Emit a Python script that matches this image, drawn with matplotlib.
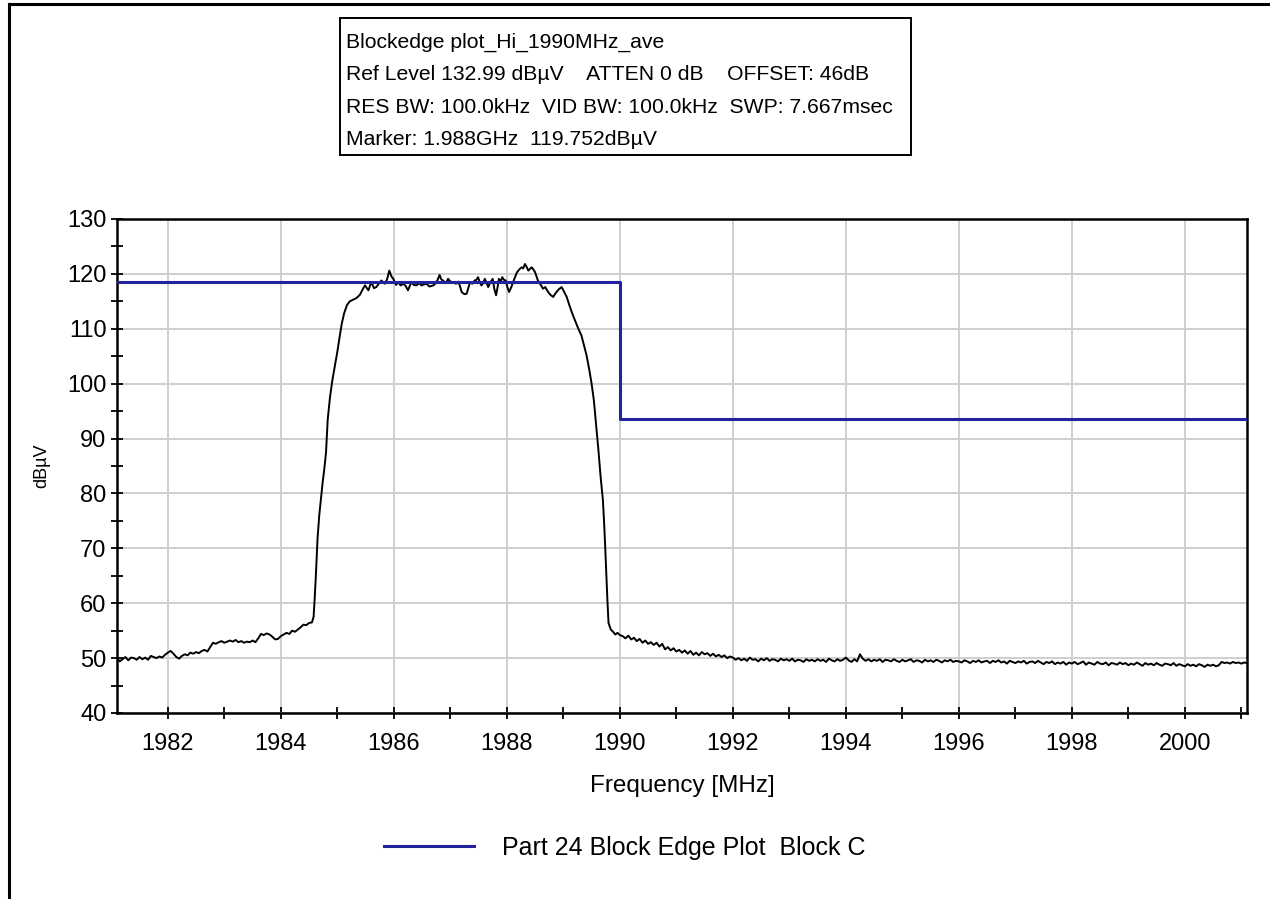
import numpy as np
import matplotlib
matplotlib.use("Agg")
import matplotlib.pyplot as plt
from matplotlib.lines import Line2D
from matplotlib.patches import Rectangle
from matplotlib.ticker import MultipleLocator

plt.rcParams['font.family'] = ['Liberation Sans', 'DejaVu Sans']

# ---- measured trace (frequency in MHz, level in dBuV) ----
# lower noise floor below the carrier, 0.05 MHz sweep points
floor_low_start, floor_low_stop = 1981.10, 1984.55
floor_low_level = [
    50.0, 49.4, 49.8, 50.2, 49.6, 50.1, 50.0, 49.7, 50.2, 49.8,
    50.1, 49.7, 50.4, 50.2, 50.0, 50.3, 50.1, 50.6, 51.0, 51.3,
    50.8, 50.2, 49.9, 50.4, 50.7, 50.5, 51.0, 50.8, 51.1, 50.9,
    51.3, 51.5, 51.2, 52.0, 52.8, 52.6, 52.9, 53.1, 52.8, 53.0,
    53.2, 53.0, 53.3, 52.9, 53.1, 52.8, 53.0, 52.9, 53.2, 52.9,
    53.6, 54.4, 54.2, 54.5, 54.3, 53.9, 53.4, 53.5, 54.0, 54.3,
    54.6, 54.4, 55.0, 54.8, 55.2, 55.6, 56.1, 56.0, 56.4, 56.5,
]

# carrier: rising edge, in-band ripple, falling edge
carrier_freq = [
    1984.58, 1984.60, 1984.62, 1984.65, 1984.68, 1984.71, 1984.74, 1984.77,
    1984.80, 1984.83, 1984.87, 1984.91, 1984.96, 1985.00, 1985.04, 1985.08,
    1985.12, 1985.17, 1985.22, 1985.28, 1985.34, 1985.40,
    1985.46, 1985.49, 1985.55, 1985.60, 1985.65, 1985.69, 1985.74, 1985.78,
    1985.84, 1985.88, 1985.92, 1985.96, 1985.99, 1986.04, 1986.08, 1986.12,
    1986.17, 1986.21, 1986.25, 1986.31, 1986.35, 1986.40, 1986.45, 1986.49,
    1986.54, 1986.58, 1986.63, 1986.70, 1986.74, 1986.77, 1986.81, 1986.84,
    1986.87, 1986.92, 1986.96, 1987.00, 1987.05, 1987.10, 1987.14, 1987.17,
    1987.20, 1987.25, 1987.29, 1987.32, 1987.35, 1987.39, 1987.43, 1987.46,
    1987.49, 1987.52, 1987.55, 1987.58, 1987.61, 1987.64, 1987.67, 1987.71,
    1987.75, 1987.78, 1987.81, 1987.84, 1987.86, 1987.89, 1987.92, 1987.95,
    1987.98, 1988.01, 1988.04, 1988.08, 1988.11, 1988.15, 1988.18, 1988.22,
    1988.26, 1988.29, 1988.32, 1988.35, 1988.38, 1988.41, 1988.44, 1988.47,
    1988.50, 1988.53, 1988.55, 1988.60, 1988.64, 1988.68, 1988.73, 1988.77,
    1988.82, 1988.85, 1988.88, 1988.92, 1988.97, 1989.01, 1989.06, 1989.10,
    1989.14, 1989.18, 1989.23, 1989.27, 1989.32, 1989.36, 1989.41,
    1989.46, 1989.50, 1989.54, 1989.58, 1989.62, 1989.66, 1989.70, 1989.72,
    1989.74, 1989.76, 1989.78, 1989.80, 1989.84, 1989.88, 1989.92, 1989.96,
    1990.00,
]
carrier_level = [
    57.5, 61.0, 65.0, 71.8, 76.0, 79.0, 82.0, 84.5,
    87.5, 93.5, 97.5, 100.5, 103.5, 105.8, 108.5, 111.0,
    112.8, 114.3, 115.0, 115.3, 115.6, 116.2,
    117.4, 117.9, 117.0, 118.5, 117.4, 117.6, 118.3, 118.8,
    118.2, 119.0, 120.6, 119.5, 119.1, 118.0, 118.5, 117.9,
    118.2, 117.8, 117.0, 118.5, 118.0, 117.9, 118.3, 117.9,
    118.1, 118.2, 117.7, 117.9, 118.3, 118.8, 119.8, 119.0,
    118.8, 118.3, 119.1, 118.6, 118.5, 118.2, 118.6, 117.8,
    116.7, 116.3, 116.4, 117.5, 118.5, 118.2, 118.8, 118.9,
    119.4, 118.5, 117.9, 118.3, 119.1, 118.4, 117.6, 118.5,
    119.1, 117.2, 116.1, 117.8, 119.1, 118.6, 119.4, 118.9,
    118.8, 117.6, 116.7, 117.6, 118.5, 119.5, 120.3, 120.8,
    121.2, 121.0, 121.8, 121.3, 120.6, 120.9, 121.2, 120.8,
    120.3, 119.4, 118.8, 118.0, 117.3, 117.6, 116.7, 116.2,
    115.8, 116.3, 116.7, 117.2, 117.6, 116.8, 115.8, 114.5,
    113.3, 112.2, 110.9, 109.9, 108.8, 107.2, 105.2,
    102.5, 100.0, 97.0, 92.5, 88.0, 83.0, 78.8, 75.0,
    70.5, 65.5, 60.5, 56.4, 55.2, 54.8, 54.3, 54.6,
    54.2,
]

# skirt just above the band edge, 0.05 MHz sweep points
skirt_start, skirt_stop = 1990.05, 1992.00
skirt_level = [
    54.0, 53.6, 54.1, 53.4, 53.7, 53.1, 53.5, 52.8, 53.2, 52.6,
    52.9, 52.4, 52.8, 52.1, 52.6, 51.6, 52.0, 51.4, 51.8, 51.2,
    51.5, 51.0, 51.4, 50.8, 51.3, 50.6, 51.0, 50.5, 51.1, 50.7,
    50.9, 50.4, 50.8, 50.3, 50.6, 50.2, 50.5, 50.0, 50.3, 50.1,
]

# upper noise floor, 0.05 MHz sweep points
floor_high_start, floor_high_stop = 1992.05, 2001.10
floor_high_level = [
    49.7, 50.0, 49.6, 49.9, 49.5, 50.1, 49.7, 49.8, 49.4, 49.9,
    49.6, 50.0, 49.5, 49.8, 49.7, 49.4, 49.9, 49.6, 49.8, 49.5,
    49.9, 49.4, 49.7, 49.6, 49.3, 49.8, 49.5, 49.7, 49.4, 49.8,
    49.5, 49.7, 49.3, 49.9, 49.6, 49.4, 49.8, 49.5, 49.7, 50.1,
    49.6, 49.3, 49.8, 49.4, 50.7, 49.9, 49.5, 49.8, 49.4, 49.7,
    49.5, 49.8, 49.3, 49.7, 49.6, 49.4, 49.8, 49.5, 49.3, 49.7,
    49.4, 49.6, 49.8, 49.3, 49.6, 49.5, 49.2, 49.7, 49.4, 49.6,
    49.3, 49.7, 49.5, 49.2, 49.6, 49.4, 49.7, 49.3, 49.5, 49.4,
    49.2, 49.6, 49.4, 49.1, 49.5, 49.3, 49.6, 49.2, 49.4, 49.5,
    49.1, 49.5, 49.3, 49.6, 49.2, 49.4, 49.0, 49.5, 49.3, 49.1,
    49.4, 49.2, 49.5, 49.0, 49.3, 49.4, 49.1, 49.5, 49.2, 48.9,
    49.3, 49.1, 49.4, 48.9, 49.2, 49.0, 49.3, 48.8, 49.2, 49.0,
    49.3, 48.9, 49.1, 49.4, 48.8, 49.2, 49.0, 48.8, 49.3, 49.0,
    48.9, 49.2, 48.7, 49.1, 49.0, 48.8, 49.2, 48.9, 49.1, 48.7,
    49.0, 48.8, 49.2, 48.9, 48.6, 49.1, 48.8, 49.0, 48.7, 49.1,
    48.8, 48.6, 49.0, 48.9, 48.7, 49.1, 48.6, 48.9, 48.7, 48.5,
    48.9, 48.6, 48.8, 48.5, 48.9, 48.7, 48.4, 48.8, 48.6, 48.8,
    48.5, 48.7, 49.3, 49.1, 49.2, 49.0, 49.3, 49.1, 49.2, 49.0,
    49.2, 49.1,
]

# Part 24 block edge limit, Block C
limit_freq = [1981.1, 1990.0, 1990.0, 2001.1]
limit_level = [118.6, 118.6, 93.6, 93.6]

x_ticks = [1982, 1984, 1986, 1988, 1990, 1992, 1994, 1996, 1998, 2000]
y_ticks = [40, 50, 60, 70, 80, 90, 100, 110, 120, 130]

info_lines = [
    "Blockedge plot_Hi_1990MHz_ave",
    "Ref Level 132.99 dB\u00b5V    ATTEN 0 dB    OFFSET: 46dB",
    "RES BW: 100.0kHz  VID BW: 100.0kHz  SWP: 7.667msec",
    "Marker: 1.988GHz  119.752dB\u00b5V",
]
legend_label = "Part 24 Block Edge Plot  Block C"

# ---- assemble the sweep ----
freq = np.concatenate([
    np.linspace(floor_low_start, floor_low_stop, len(floor_low_level)),
    np.array(carrier_freq),
    np.linspace(skirt_start, skirt_stop, len(skirt_level)),
    np.linspace(floor_high_start, floor_high_stop, len(floor_high_level)),
])
level = np.concatenate([floor_low_level, carrier_level, skirt_level, floor_high_level])

# ---- figure ----
fig = plt.figure(figsize=(12.70, 8.99), dpi=100)
ax = fig.add_axes([0.0921, 0.2069, 0.8898, 0.5495])

ax.plot(freq, level, color="black", lw=1.4, zorder=3)
limit_line, = ax.plot(limit_freq, limit_level, color="#23239e", lw=2.2, zorder=4)

ax.set_xlim(1981.1, 2001.1)
ax.set_ylim(40, 130)
ax.set_xticks(x_ticks)
ax.set_yticks(y_ticks)
ax.xaxis.set_minor_locator(MultipleLocator(1))
ax.yaxis.set_minor_locator(MultipleLocator(5))
ax.grid(True, which="major", color="#cfcfcf", lw=1.4, zorder=0)
ax.set_axisbelow(True)

ax.tick_params(which="both", direction="inout", length=9, width=1.3, colors="black")
ax.tick_params(axis="x", which="major", labelsize=17, pad=10)
ax.tick_params(axis="y", which="major", labelsize=17, pad=3)
for s in ax.spines.values():
    s.set_linewidth(1.8)
    s.set_color("black")

ax.set_xlabel("Frequency [MHz]", fontsize=17.5, labelpad=14)
ax.set_ylabel("dB\u00b5V", fontsize=13, labelpad=12)

# instrument settings box
fig.add_artist(Rectangle((0.2677, 0.8276), 0.4496, 0.1524, transform=fig.transFigure,
                         fc="white", ec="black", lw=1.4))
info_y = [0.9533, 0.9166, 0.8799, 0.8443]
for txt, yy in zip(info_lines, info_y):
    fig.text(0.2724, yy, txt, fontsize=15.2, va="center", ha="left")

# legend below the plot
fig.legend([limit_line], [legend_label], loc="center", bbox_to_anchor=(0.492, 0.0567),
           frameon=False, fontsize=18, handlelength=3.6, handletextpad=1.1)

# page frame
fig.add_artist(Line2D([0.0067, 0.0067], [0.0, 0.9955], color="black", lw=2.2,
                      transform=fig.transFigure))
fig.add_artist(Line2D([0.0067, 1.0], [0.9955, 0.9955], color="black", lw=2.2,
                      transform=fig.transFigure))

fig.savefig("out.png", dpi=100)
